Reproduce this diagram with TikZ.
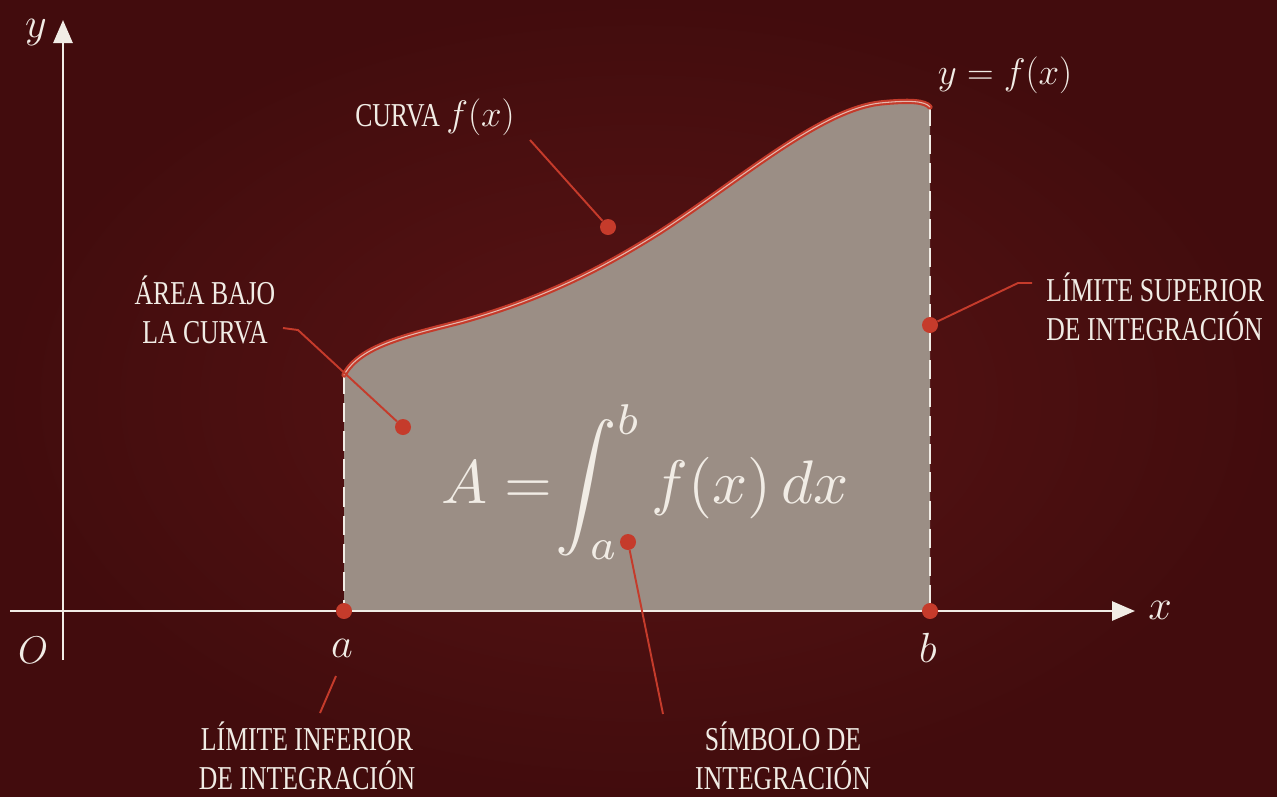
\RequirePackage{fix-cm}
\documentclass[tikz,border=0pt]{standalone}
\usepackage{fontspec}
\newfontfamily\lblfont[FakeStretch=0.77]{Liberation Serif}
\usetikzlibrary{arrows.meta}
\definecolor{bgc}{HTML}{591415}
\definecolor{bgedge}{HTML}{420C0D}
\definecolor{areac}{HTML}{9B8E85}
\definecolor{redc}{HTML}{C53B2B}
\definecolor{ink}{HTML}{F1ECE5}
\tikzset{
  axisline/.style={draw=ink, line width=1.6pt},
  tipstyle/.style={-{Triangle[length=0.46cm,width=0.38cm]}},
  lbl/.style={text=ink, font=\lblfont\fontsize{19}{22}\selectfont, align=center, inner sep=0pt},
  mth/.style={text=ink, inner sep=0pt},
  leader/.style={draw=redc, line width=1.1pt},
  dotn/.style={circle, fill=redc, minimum size=0.32cm, inner sep=0pt},
  bound/.style={draw=ink, line width=1.1pt, dash pattern=on 11pt off 5pt},
  curvered/.style={draw=redc, line width=3pt, line cap=round},
  curvehi/.style={draw=ink!70!redc, line width=0.6pt, line cap=round}
}
\newcommand{\fcurvepath}{(344,375) .. controls (360,345) and (410,335) .. (460,322) .. controls (540,300) and (600,270) .. (660,232) .. controls (740,180) and (820,110) .. (880,103) .. controls (910,100) and (925,101) .. (930,107)}
\begin{document}
\begin{tikzpicture}[x=0.02cm, y=-0.02cm]
\shade[inner color=bgc, outer color=bgedge] (0,0) rectangle (1277,796);
\useasboundingbox (0,0) rectangle (1277,796);
% area under the curve
\fill[areac] (344,611) -- \fcurvepath -- (930,611) -- cycle;
% bounds
\draw[bound] (344,375) -- (344,611);
\draw[bound] (930,107) -- (930,611);
% axes
\draw[axisline, tipstyle] (10,611) -- (1135,611);
\draw[axisline, tipstyle] (63,660) -- (63,20);
% curve
\draw[curvered] \fcurvepath;
\draw[curvehi] \fcurvepath;
% dots
\node[dotn] (da) at (344,611) {};
\node[dotn] (db) at (930,611) {};
\node[dotn] (dsup) at (930,325) {};
\node[dotn] (darea) at (403,427) {};
\node[dotn] (dcurve) at (608,227) {};
\node[dotn] (dsym) at (628,542) {};
% formula
\node[mth, anchor=base] (formula) at (645,503) {\scalebox{3.5}{$\displaystyle A=\mkern-4mu\int_a^b f(x)\,dx$}};
% axis labels
\node[mth] (ly) at (36,33) {\fontsize{24}{24}\selectfont$y$};
\node[mth] (lx) at (1160,610) {\fontsize{24}{24}\selectfont$x$};
\node[mth] (lO) at (33,650) {\fontsize{22}{22}\selectfont$O$};
\node[mth] (la) at (342,648) {\fontsize{24}{24}\selectfont$a$};
\node[mth] (lb) at (928,648) {\fontsize{24}{24}\selectfont$b$};
\node[mth] (lyf) at (1005,75) {\fontsize{21}{21}\selectfont$y=f(x)$};
% text labels
\node[lbl] (tcurva) at (435,117) {CURVA \fontsize{21}{21}\selectfont$f(x)$};
\node[lbl] (tarea) at (205,310) {ÁREA BAJO\\LA CURVA};
\node[lbl, align=left, anchor=west] (tsup) at (1046,307) {LÍMITE SUPERIOR\\DE INTEGRACIÓN};
\node[lbl] (tinf) at (307,756) {LÍMITE INFERIOR\\DE INTEGRACIÓN};
\node[lbl] (tsym) at (783,756) {SÍMBOLO DE\\INTEGRACIÓN};
% leaders
\coordinate (c1) at (530,140);
\draw[leader] (c1) -- (dcurve);
\coordinate (c2a) at (283,328);
\coordinate (c2b) at (298,330);
\draw[leader] (c2a) -- (c2b) -- (darea);
\coordinate (c3a) at (1032,283);
\coordinate (c3b) at (1018,283);
\draw[leader] (c3a) -- (c3b) -- (dsup);
\coordinate (c4a) at (336,676);
\coordinate (c4b) at (320,713);
\draw[leader] (c4a) -- (c4b);
\coordinate (c5) at (663,714);
\draw[leader] (dsym) -- (c5);
\end{tikzpicture}
\end{document}
